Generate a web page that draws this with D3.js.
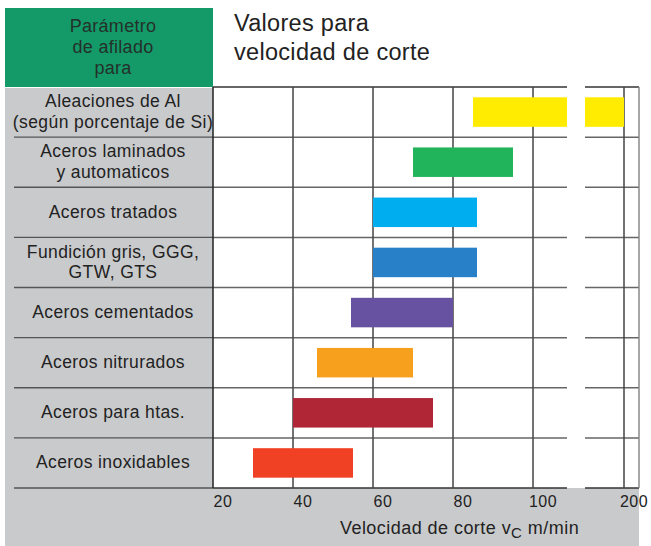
<!DOCTYPE html>
<html>
<head>
<meta charset="utf-8">
<script src="https://cdn.jsdelivr.net/npm/d3@7"></script>
<style>
  html, body { margin: 0; padding: 0; background: #ffffff; }
  svg { display: block; font-family: "Liberation Sans", Arial, Helvetica, sans-serif; }
</style>
</head>
<body>
<svg id="chart" width="651" height="546"></svg>
<script>
// Materials (rows, top to bottom); multi-line labels split on "|"
const categories = [
  "Aleaciones de Al|(según porcentaje de Si)",
  "Aceros laminados|y automaticos",
  "Aceros tratados",
  "Fundición gris, GGG,|GTW, GTS",
  "Aceros cementados",
  "Aceros nitrurados",
  "Aceros para htas.",
  "Aceros inoxidables"
];
// Cutting speed range per material, m/min
const speedMin = [85, 70, 60, 60, 54.5, 46, 40, 30];
const speedMax = [200, 95, 86, 86, 80, 70, 75, 55];
const barColors = ["#ffec00", "#22b45a", "#00aeef", "#2880c8", "#6751a1", "#f6a01d", "#b02636", "#f04124"];
const tickValues = [20, 40, 60, 80, 100, 200];
const tickLabels = ["20", "40", "60", "80", "100", "200"];
// Axis break: values between these two are skipped
const breakLo = 108.5, breakHi = 190.25;

const svg = d3.select("#chart");

const plot = { left: 213, right: 639, top: 87, bottom: 488 };

// Piecewise x scale with a gap between breakLo and breakHi
const x = d3.scaleLinear()
  .domain([20, breakLo, breakHi, 203.75])
  .range([plot.left, 567, 585, plot.right]);

const y = d3.scaleBand()
  .domain(categories)
  .range([plot.top, plot.bottom])
  .paddingInner(0)
  .paddingOuter(0);

// Grey panel behind label column and axis area
svg.append("rect")
  .attr("x", 5).attr("y", 88)
  .attr("width", plot.right - 5).attr("height", 546 - 88)
  .attr("fill", "#c9cacc");

// Green header
svg.append("rect")
  .attr("x", 5).attr("y", 8)
  .attr("width", plot.left - 5).attr("height", 79)
  .attr("fill", "#139a68");

const header = svg.append("text")
  .attr("text-anchor", "middle")
  .attr("font-size", 18)
  .attr("letter-spacing", 0.3)
  .attr("fill", "#24302a");
["Parámetro", "de afilado", "para"].forEach((t, i) => {
  header.append("tspan").attr("x", 113).attr("y", 32 + i * 21).text(t);
});

// Title
const title = svg.append("text")
  .attr("font-size", 23.5)
  .attr("letter-spacing", 0.3)
  .attr("fill", "#222");
["Valores para", "velocidad de corte"].forEach((t, i) => {
  title.append("tspan").attr("x", 234).attr("y", 31 + i * 29).text(t);
});

// White plot area
svg.append("rect")
  .attr("x", plot.left).attr("y", plot.top)
  .attr("width", plot.right - plot.left).attr("height", plot.bottom - plot.top)
  .attr("fill", "#ffffff");

// Split a [a, b] range around the axis break
function segments(a, b) {
  if (b <= breakLo || a >= breakHi) return [[a, b]];
  const s = [];
  if (a < breakLo) s.push([a, breakLo]);
  if (b > breakHi) s.push([breakHi, b]);
  return s;
}

// Horizontal row separators (broken at the axis gap inside the plot)
const rowEdges = categories.map(c => y(c)).concat([plot.bottom]);
const hGrid = svg.append("g");
rowEdges.forEach((yy, i) => {
  // label column part
  if (i > 0) {
    hGrid.append("line")
      .attr("x1", 14).attr("x2", plot.left)
      .attr("y1", yy).attr("y2", yy)
      .attr("stroke", "#555").attr("stroke-width", 1.3);
  }
  segments(20, 203.75).forEach(([a, b]) => {
    hGrid.append("line")
      .attr("x1", x(a)).attr("x2", x(b))
      .attr("y1", yy).attr("y2", yy)
      .attr("stroke", i === rowEdges.length - 1 || i === 0 ? "#333" : "#666")
      .attr("stroke-width", 1.5);
  });
});

// Vertical grid lines
svg.append("g").selectAll("line")
  .data(tickValues)
  .join("line")
  .attr("x1", d => x(d)).attr("x2", d => x(d))
  .attr("y1", plot.top).attr("y2", plot.bottom)
  .attr("stroke", d => d === 20 ? "#222" : "#444")
  .attr("stroke-width", 1.5);

// Right frame edge
svg.append("line")
  .attr("x1", plot.right).attr("x2", plot.right)
  .attr("y1", plot.top).attr("y2", plot.bottom)
  .attr("stroke", "#888").attr("stroke-width", 1.5);

// Bars
const barH = 29.5;
const bars = svg.append("g");
categories.forEach((c, i) => {
  const cy = y(c) + y.bandwidth() / 2;
  segments(speedMin[i], speedMax[i]).forEach(([a, b]) => {
    bars.append("rect")
      .attr("x", x(a)).attr("y", cy - barH / 2)
      .attr("width", x(b) - x(a)).attr("height", barH)
      .attr("fill", barColors[i]);
  });
});

// Row labels
const labels = svg.append("g")
  .attr("text-anchor", "middle")
  .attr("font-size", 17.5)
  .attr("letter-spacing", 0.4)
  .attr("fill", "#222");
categories.forEach(c => {
  const parts = c.split("|");
  const cy = y(c) + y.bandwidth() / 2;
  const t = labels.append("text");
  parts.forEach((p, j) => {
    t.append("tspan")
      .attr("x", 113)
      .attr("y", cy + 5.5 + (j - (parts.length - 1) / 2) * 20.5)
      .text(p);
  });
});

// Tick labels
svg.append("g").selectAll("text")
  .data(tickValues)
  .join("text")
  .attr("x", d => x(d) + 10)
  .attr("y", 507)
  .attr("text-anchor", "middle")
  .attr("font-size", 16)
  .attr("letter-spacing", 0.5)
  .attr("fill", "#222")
  .text((d, i) => tickLabels[i]);

// Axis title with subscript
const axisTitle = svg.append("text")
  .attr("x", 340).attr("y", 534)
  .attr("font-size", 18)
  .attr("letter-spacing", 0.45)
  .attr("fill", "#222");
axisTitle.append("tspan").text("Velocidad de corte v");
axisTitle.append("tspan").attr("font-size", 15).attr("dy", 4).text("C");
axisTitle.append("tspan").attr("dy", -4).text(" m/min");
</script>
</body>
</html>
